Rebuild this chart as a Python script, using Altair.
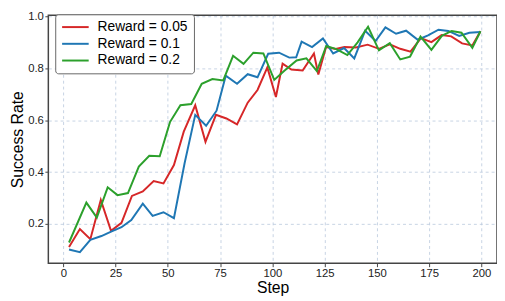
import altair as alt
import pandas as pd

series_names = ["Reward = 0.05", "Reward = 0.1", "Reward = 0.2"]
series_colors = ["#d62728", "#1f77b4", "#2ca02c"]

red_steps = [2.7, 7.9, 12.9, 17.9, 22.8, 27.8, 32.8, 38.0, 43.2, 47.9,
             52.9, 57.6, 63.1, 68.0, 73.0, 78.0, 83.1, 88.2, 92.9, 97.6,
             101.7, 104.9, 109.1, 114.5, 119.9, 122.0, 125.7, 130.3, 134.5, 140.0,
             145.6, 151.0, 156.2, 161.2, 166.1, 171.1, 176.1, 181.0, 185.6, 190.8,
             195.7, 199.6]
red_vals = [0.111, 0.180, 0.141, 0.292, 0.173, 0.204, 0.308, 0.325, 0.365, 0.356,
            0.427, 0.556, 0.658, 0.517, 0.621, 0.607, 0.584, 0.668, 0.717, 0.804,
            0.690, 0.819, 0.796, 0.792, 0.858, 0.777, 0.883, 0.875, 0.883, 0.881,
            0.892, 0.876, 0.893, 0.876, 0.865, 0.917, 0.902, 0.929, 0.924, 0.897,
            0.889, 0.944]

blue_steps = [2.7, 7.9, 12.9, 18.2, 23.1, 27.8, 32.5, 38.0, 42.7, 47.9,
              52.9, 58.0, 63.1, 68.3, 73.3, 77.7, 83.1, 88.2, 92.9, 98.0,
              103.2, 108.1, 111.4, 114.0, 119.0, 124.2, 129.1, 134.3, 139.2, 144.4,
              149.4, 154.1, 159.2, 164.0, 169.6, 174.5, 179.5, 184.2, 189.4, 194.3,
              199.6]
blue_vals = [0.101, 0.091, 0.138, 0.153, 0.171, 0.187, 0.215, 0.278, 0.231, 0.245,
             0.222, 0.434, 0.621, 0.579, 0.637, 0.772, 0.741, 0.778, 0.766, 0.857,
             0.861, 0.842, 0.843, 0.904, 0.883, 0.916, 0.858, 0.879, 0.839, 0.946,
             0.906, 0.959, 0.934, 0.946, 0.911, 0.928, 0.950, 0.945, 0.926, 0.938,
             0.941]

green_steps = [2.7, 11.0, 16.0, 21.2, 25.9, 30.9, 36.1, 41.1, 46.1, 51.0,
               56.0, 61.2, 66.2, 71.3, 76.5, 81.2, 86.2, 90.9, 95.7, 100.9,
               105.6, 111.6, 116.3, 121.3, 125.8, 130.6, 135.9, 140.8, 145.8, 151.0,
               156.2, 161.2, 165.9, 170.9, 176.1, 181.1, 185.8, 190.5, 195.7, 199.6]
green_vals = [0.128, 0.282, 0.224, 0.341, 0.311, 0.319, 0.421, 0.463, 0.461, 0.593,
              0.658, 0.663, 0.741, 0.759, 0.754, 0.849, 0.818, 0.861, 0.858, 0.756,
              0.790, 0.831, 0.839, 0.790, 0.887, 0.875, 0.852, 0.901, 0.961, 0.870,
              0.898, 0.835, 0.846, 0.923, 0.872, 0.926, 0.945, 0.938, 0.880, 0.944]

x_ticks = [0, 25, 50, 75, 100, 125, 150, 175, 200]
y_ticks = [0.2, 0.4, 0.6, 0.8, 1.0]

rows = []
for name, steps, vals in zip(series_names,
                             [red_steps, blue_steps, green_steps],
                             [red_vals, blue_vals, green_vals]):
    for s, v in zip(steps, vals):
        rows.append({"series": name, "step": s, "rate": v})
df = pd.DataFrame(rows)

FONT = "Liberation Sans"

chart = alt.Chart(df).mark_line(strokeWidth=2, clip=True).encode(
    x=alt.X("step:Q",
            scale=alt.Scale(domain=[-7.2, 207.5], nice=False, zero=False),
            axis=alt.Axis(values=x_ticks, title="Step", titleY=25,
                          titleBaseline="middle")),
    y=alt.Y("rate:Q",
            scale=alt.Scale(domain=[0.048, 1.0055], nice=False, zero=False),
            axis=alt.Axis(values=y_ticks, format=".1f", title="Success Rate",
                          titleX=-31, titleY=126, titleBaseline="middle",
                          titleAlign="center")),
    color=alt.Color("series:N",
                    scale=alt.Scale(domain=series_names, range=series_colors),
                    legend=alt.Legend(orient="none", legendX=7, legendY=-1,
                                      title=None,
                                      symbolType="M-1,0H3.5",
                                      symbolSize=144,
                                      symbolStrokeWidth=2,
                                      labelOffset=23,
                                      labelFontSize=14,
                                      labelFont=FONT,
                                      labelColor="#000000",
                                      padding=6,
                                      rowPadding=3,
                                      fillColor="white",
                                      strokeColor="#666666",
                                      cornerRadius=3)),
).properties(
    width=456,
    height=252,
    autosize=alt.AutoSizeParams(type="none"),
    padding={"left": 41, "top": 5, "right": 0, "bottom": 36},
).configure_view(
    stroke="#444444",
    strokeWidth=1.5,
).configure_legend(
    labelFontSize=14,
    labelFont=FONT,
).configure_axis(
    domain=False,
    ticks=True,
    tickColor="#444444",
    tickSize=3.5,
    tickWidth=1,
    labelPadding=1.5,
    labelFont=FONT,
    labelFontSize=11.5,
    labelColor="#222222",
    titleFont=FONT,
    titleFontSize=16,
    titleFontWeight="normal",
    titleColor="#000000",
    grid=True,
    gridColor="#b9c8dc",
    gridDash=[3, 3],
    gridWidth=0.8,
)

chart.save("out.html", embed_options={"renderer": "svg", "actions": False})
